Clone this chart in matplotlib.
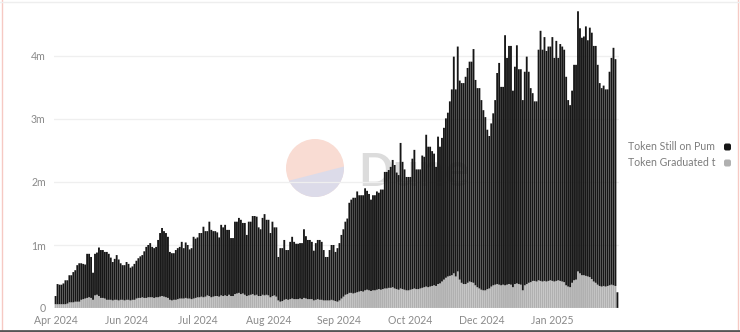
import numpy as np
import pandas as pd
import matplotlib
matplotlib.use("Agg")
import matplotlib.pyplot as plt
from matplotlib.patches import Circle, Polygon, FancyBboxPatch
from matplotlib.lines import Line2D

# ---------------- data (millions of tokens, daily) ----------------
start_date = "2024-04-29"
series_names = ["Token Still on Pum", "Token Graduated t"]
tick_labels = ["Apr 2024", "Jun 2024", "Jul 2024", "Aug 2024",
               "Sep 2024", "Oct 2024", "Dec 2024", "Jan 2025"]
y_ticks = [0, 1, 2, 3, 4]
y_tick_labels = ["0", "1m", "2m", "3m", "4m"]

total_tokens = [
    0.19, 0.38, 0.37, 0.37, 0.39, 0.44, 0.44, 0.52, 0.52, 0.57,
    0.60, 0.68, 0.71, 0.71, 0.70, 0.69, 0.86, 0.86, 0.81, 0.56,
    0.86, 0.88, 0.96, 0.92, 0.92, 0.89, 0.89, 0.86, 0.80, 0.73,
    0.78, 0.84, 0.77, 0.71, 0.68, 0.68, 0.73, 0.70, 0.64, 0.66,
    0.70, 0.75, 0.79, 0.82, 0.84, 0.90, 0.97, 1.00, 1.03, 0.97,
    0.95, 0.97, 1.08, 1.19, 1.27, 1.22, 1.19, 1.13, 0.89, 0.87,
    0.87, 0.92, 0.95, 0.97, 1.05, 0.95, 1.04, 1.00, 0.93, 0.95,
    1.13, 1.10, 1.12, 1.19, 1.19, 1.29, 1.22, 1.22, 1.37, 1.24,
    1.22, 1.22, 1.20, 1.12, 1.32, 1.28, 1.32, 1.24, 1.24, 1.11,
    1.11, 1.37, 1.37, 1.43, 1.40, 1.35, 1.35, 1.16, 1.37, 1.37,
    1.46, 1.46, 1.45, 1.28, 1.25, 1.43, 1.49, 1.40, 1.40, 1.19,
    1.37, 1.28, 1.28, 0.81, 0.95, 0.95, 1.08, 0.92, 0.92, 1.05,
    1.13, 1.05, 1.02, 1.02, 1.03, 1.03, 1.25, 1.14, 1.08, 1.08,
    1.05, 0.91, 1.03, 1.08, 1.08, 1.05, 0.92, 0.81, 0.81, 0.92,
    1.00, 1.00, 0.89, 0.95, 1.03, 1.16, 1.25, 1.37, 1.42, 1.67,
    1.72, 1.75, 1.75, 1.85, 1.79, 1.79, 1.79, 1.90, 1.86, 1.81,
    1.72, 1.79, 1.79, 1.85, 1.83, 1.88, 1.88, 2.16, 2.16, 2.19,
    2.24, 2.35, 2.27, 2.15, 2.11, 2.62, 2.32, 2.20, 2.08, 2.08,
    2.08, 2.37, 2.51, 2.20, 2.20, 2.20, 2.42, 2.40, 2.75, 2.56,
    2.56, 2.49, 2.45, 2.24, 2.72, 2.56, 2.70, 2.86, 3.01, 3.10,
    3.28, 3.47, 3.99, 3.47, 4.15, 3.61, 3.57, 3.57, 3.67, 3.81,
    3.91, 3.91, 4.11, 3.62, 3.49, 3.49, 3.30, 3.14, 3.03, 2.83,
    2.73, 2.93, 3.09, 3.30, 3.73, 3.89, 3.51, 3.51, 4.33, 3.97,
    4.16, 4.16, 3.45, 3.83, 4.17, 3.79, 3.79, 3.30, 3.75, 3.99,
    3.75, 3.49, 3.41, 3.28, 3.28, 4.10, 4.40, 4.10, 4.30, 4.08,
    4.15, 4.15, 4.30, 3.97, 4.24, 3.97, 4.19, 4.15, 4.10, 3.67,
    3.30, 3.22, 3.45, 3.86, 3.86, 4.71, 4.44, 4.29, 4.31, 4.47,
    4.25, 4.45, 4.37, 4.16, 4.16, 3.86, 3.57, 3.49, 3.53, 3.47,
    3.47, 3.75, 3.97, 4.13, 3.95, 0.25,
]

token_graduated = [
    0.06, 0.06, 0.06, 0.06, 0.06, 0.06, 0.07, 0.09, 0.09, 0.09,
    0.10, 0.10, 0.10, 0.13, 0.14, 0.15, 0.16, 0.17, 0.16, 0.13,
    0.20, 0.21, 0.19, 0.16, 0.16, 0.15, 0.13, 0.13, 0.13, 0.12,
    0.13, 0.13, 0.12, 0.13, 0.13, 0.12, 0.13, 0.13, 0.12, 0.13,
    0.13, 0.15, 0.16, 0.16, 0.17, 0.16, 0.16, 0.17, 0.17, 0.17,
    0.16, 0.17, 0.17, 0.18, 0.19, 0.18, 0.17, 0.16, 0.13, 0.12,
    0.13, 0.13, 0.14, 0.15, 0.15, 0.15, 0.16, 0.15, 0.15, 0.14,
    0.15, 0.16, 0.17, 0.17, 0.18, 0.17, 0.18, 0.20, 0.19, 0.17,
    0.18, 0.19, 0.19, 0.18, 0.20, 0.19, 0.20, 0.19, 0.21, 0.19,
    0.19, 0.22, 0.23, 0.24, 0.22, 0.23, 0.21, 0.19, 0.20, 0.21,
    0.22, 0.20, 0.21, 0.19, 0.19, 0.21, 0.20, 0.21, 0.20, 0.17,
    0.19, 0.20, 0.18, 0.12, 0.10, 0.11, 0.13, 0.14, 0.13, 0.14,
    0.15, 0.14, 0.14, 0.14, 0.15, 0.14, 0.16, 0.15, 0.14, 0.14,
    0.14, 0.12, 0.13, 0.14, 0.13, 0.13, 0.12, 0.12, 0.12, 0.12,
    0.13, 0.12, 0.11, 0.10, 0.12, 0.15, 0.18, 0.21, 0.22, 0.24,
    0.24, 0.23, 0.24, 0.25, 0.26, 0.27, 0.26, 0.28, 0.29, 0.28,
    0.27, 0.28, 0.28, 0.29, 0.30, 0.29, 0.30, 0.31, 0.31, 0.32,
    0.32, 0.33, 0.31, 0.30, 0.29, 0.31, 0.30, 0.29, 0.28, 0.28,
    0.29, 0.30, 0.31, 0.30, 0.30, 0.31, 0.32, 0.33, 0.34, 0.33,
    0.34, 0.35, 0.36, 0.35, 0.38, 0.39, 0.42, 0.45, 0.48, 0.50,
    0.51, 0.52, 0.55, 0.50, 0.58, 0.45, 0.40, 0.38, 0.38, 0.40,
    0.42, 0.41, 0.40, 0.36, 0.33, 0.31, 0.29, 0.28, 0.28, 0.30,
    0.31, 0.34, 0.36, 0.37, 0.38, 0.37, 0.36, 0.37, 0.36, 0.37,
    0.38, 0.37, 0.33, 0.38, 0.39, 0.38, 0.37, 0.28, 0.36, 0.38,
    0.40, 0.41, 0.43, 0.43, 0.42, 0.44, 0.43, 0.42, 0.43, 0.42,
    0.43, 0.44, 0.43, 0.42, 0.43, 0.44, 0.43, 0.42, 0.41, 0.36,
    0.34, 0.33, 0.40, 0.44, 0.45, 0.58, 0.55, 0.52, 0.52, 0.51,
    0.50, 0.49, 0.46, 0.42, 0.40, 0.37, 0.35, 0.34, 0.35, 0.34,
    0.35, 0.36, 0.37, 0.36, 0.35, 0.00,
]

# ---------------- figure ----------------
W, H = 740, 332
fig = plt.figure(figsize=(W / 100, H / 100), dpi=100)
fig.patch.set_facecolor("white")
FONT = ["Lato", "DejaVu Sans"]

ax_l, ax_r, ax_b, ax_t = 54, 619, 308, 5
ax = fig.add_axes([ax_l / W, (H - ax_b) / H, (ax_r - ax_l) / W, (ax_b - ax_t) / H])
ax.set_facecolor("none")
ax.set_zorder(2)

n = len(total_tokens)
dates = pd.date_range(start_date, periods=n, freq="D")
x = np.arange(n)
grad = np.array(token_graduated)
still = np.array(total_tokens) - grad

BLACK = "#161616"
GRAY = "#b0b0b0"
b1 = ax.bar(x, grad, width=0.94, color=GRAY, linewidth=0, zorder=3)
b2 = ax.bar(x, still, bottom=grad, width=0.94, color=BLACK, linewidth=0, zorder=3)
for p in list(b1) + list(b2):
    p.set_snap(False)

ax.set_xlim(-0.8, n - 0.2)
ax.set_ylim(0, (ax_b - ax_t) / 63.0)

# ticks: one every 36 bars
tick_pos = x[::36][:len(tick_labels)]
ax.set_xticks(tick_pos)
ax.set_xticklabels(tick_labels, fontsize=7.6, color="#8a8a8a", family=FONT)
ax.set_yticks(y_ticks)
ax.set_yticklabels(y_tick_labels, fontsize=7.6, color="#8a8a8a", family=FONT)
ax.tick_params(axis="both", length=0, pad=5)
ax.tick_params(axis="y", pad=6)

for s in ax.spines.values():
    s.set_visible(False)
for yv in y_ticks[1:]:
    ax.axhline(yv, color="#efefef", linewidth=0.9, zorder=1)
ax.axhline(0, color="#cfcfcf", linewidth=0.9, zorder=4)

# ---------------- watermark (behind bars) ----------------
cx, cy, r = 315, H - 168, 29
circ = Circle((cx, cy), r, transform=None, facecolor="#f9dcd3", edgecolor="none", zorder=0)
fig.patches.append(circ)
low = Polygon([(cx - r - 2, cy - 14), (cx + r + 2, cy + 2), (cx + r + 2, cy - r - 2),
               (cx - r - 2, cy - r - 2)], closed=True, transform=None,
              facecolor="#dcdbe9", edgecolor="none", zorder=0)
low.set_clip_path(circ)
fig.patches.append(low)
fig.text(358 / W, (H - 186) / H, "Dune", fontsize=33, fontweight="bold",
         color="#dcdcdc", family=FONT, zorder=0)

# ---------------- legend (right) ----------------
leg_y = [147, 163]
leg_col = [BLACK, GRAY]
for name, yy, col in zip(series_names, leg_y, leg_col):
    fig.text(628 / W, (H - yy) / H, name, fontsize=7.6, color="#7d7d7d",
             family=FONT, va="center", ha="left")
    sq = FancyBboxPatch((724, H - yy - 3.5), 7, 7, boxstyle="round,pad=0,rounding_size=2",
                        transform=None, facecolor=col, edgecolor="none")
    fig.patches.append(sq)

# screenshot frame lines
fig.add_artist(Line2D([2 / W, 2 / W], [0, 1], color="#f6c9c3", linewidth=1))
fig.add_artist(Line2D([738 / W, 738 / W], [0, 1], color="#f6c9c3", linewidth=1))
fig.add_artist(Line2D([0, 1], [(H - 2) / H, (H - 2) / H], color="#eeeeee", linewidth=1))
fig.add_artist(Line2D([0, 1], [1 / H, 1 / H], color="#555555", linewidth=2))

fig.savefig("out.png", dpi=100, facecolor="white")
